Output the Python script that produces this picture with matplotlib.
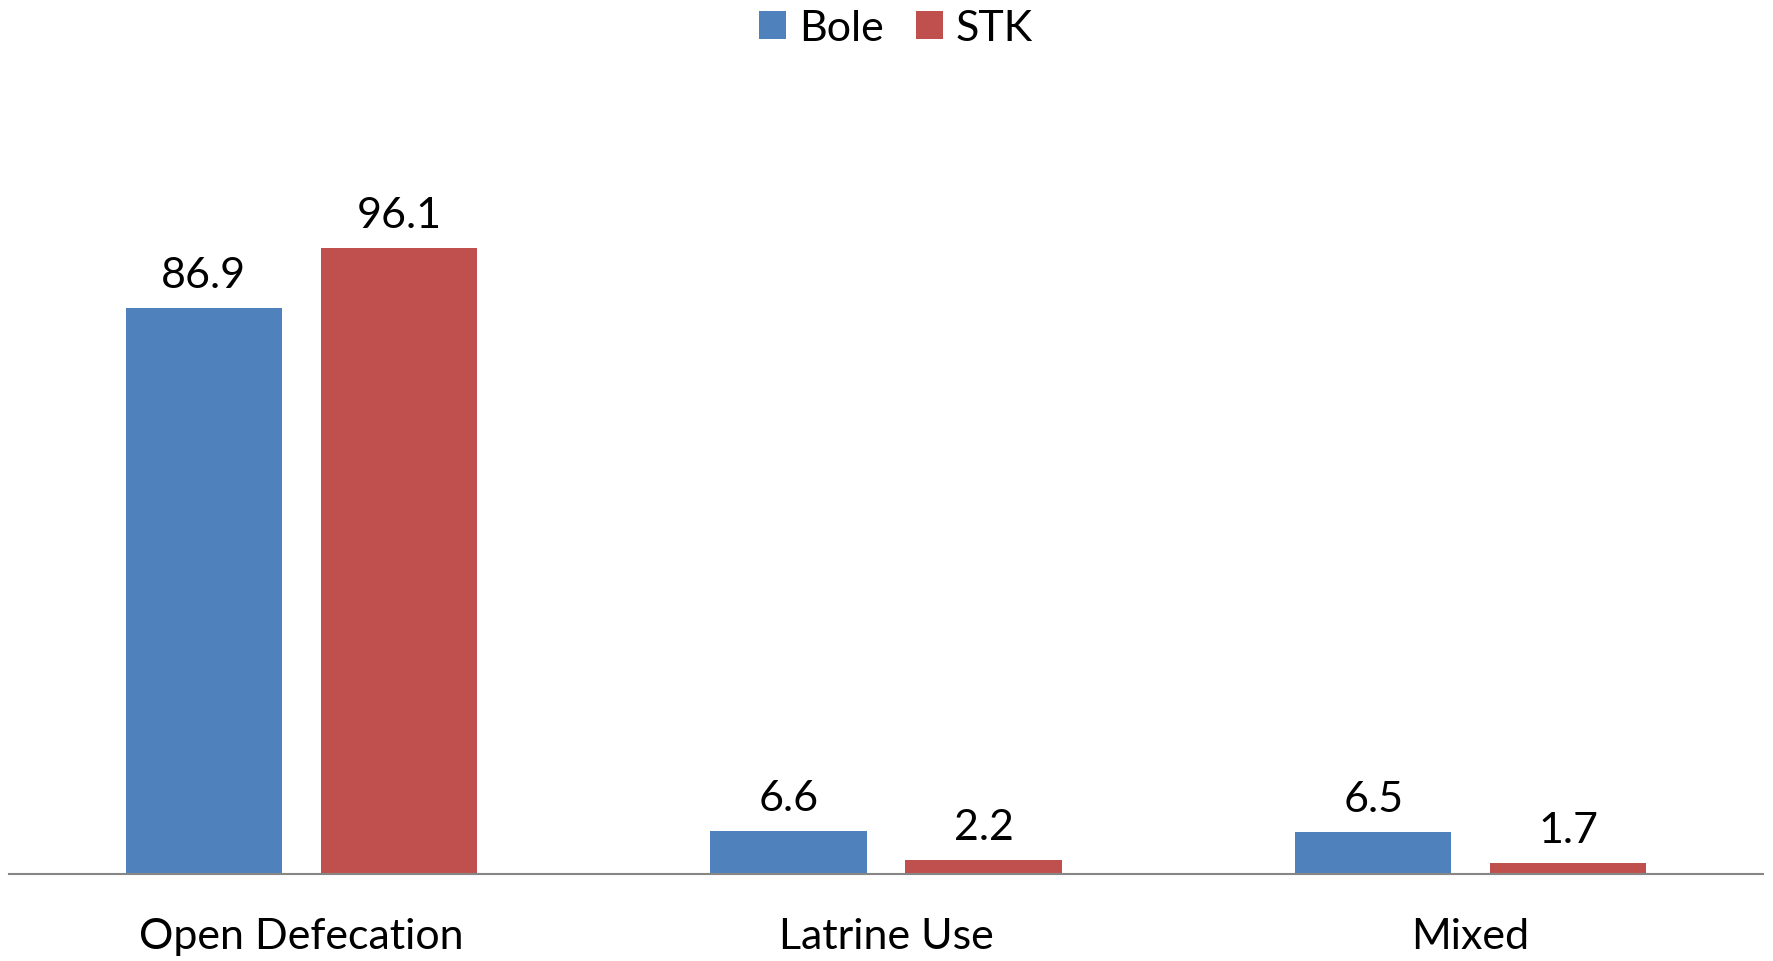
import matplotlib.pyplot as plt
import numpy as np

# data
categories = ['Open Defecation', 'Latrine Use', 'Mixed']
bole = [86.9, 6.6, 6.5]
stk = [96.1, 2.2, 1.7]

BLUE = '#4F81BD'
RED = '#C0504D'

plt.rcParams['font.family'] = ['Lato', 'DejaVu Sans']

W, H = 1774, 962
fig = plt.figure(figsize=(W / 100, H / 100), dpi=100)
ax = fig.add_axes([9 / W, (H - 875) / H, (1763 - 9) / W, (875 - 93) / H])

x = np.arange(len(categories))
width = 0.267
offset = 0.1667

b1 = ax.bar(x - offset, bole, width, color=BLUE, label='Bole')
b2 = ax.bar(x + offset, stk, width, color=RED, label='STK')

ax.bar_label(b1, labels=['%.1f' % v for v in bole], padding=10, fontsize=31)
ax.bar_label(b2, labels=['%.1f' % v for v in stk], padding=10, fontsize=31)

ax.set_xlim(-0.5, 2.5)
ax.set_ylim(0, 120)
ax.set_xticks(x)
ax.set_xticklabels(categories, fontsize=31)
ax.tick_params(axis='x', length=0, pad=31)
ax.set_yticks([])

for side in ['top', 'left', 'right']:
    ax.spines[side].set_visible(False)
ax.spines['bottom'].set_color('#868686')
ax.spines['bottom'].set_linewidth(1.5)

fig.legend(loc='center', bbox_to_anchor=(896 / W, 1 - 29 / H), ncol=2, frameon=False,
           fontsize=31, handlelength=0.62, handleheight=0.62, handletextpad=0.3,
           columnspacing=0.75)

fig.savefig('out.png', dpi=100)
